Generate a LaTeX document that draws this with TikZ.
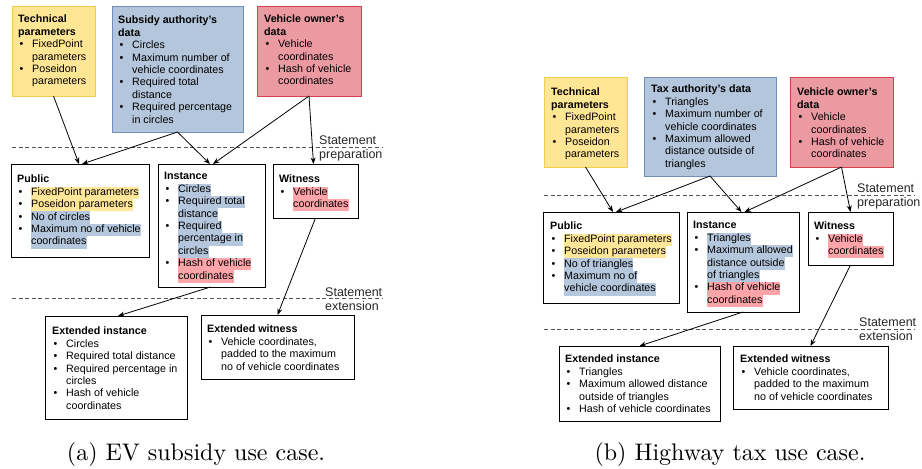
\documentclass[tikz,border=0pt]{standalone}
\usepackage{fontspec}
\newfontfamily\dfont{Liberation Sans}
\newfontfamily\capfont[Extension=.otf]{lmroman10-regular}
\usetikzlibrary{arrows.meta}
\definecolor{yfill}{HTML}{FFE695}
\definecolor{ydraw}{HTML}{F3CD4E}
\definecolor{bfill}{HTML}{B3C6DB}
\definecolor{bdraw}{HTML}{6F8EBE}
\definecolor{rfill}{HTML}{EB9AA2}
\definecolor{rdraw}{HTML}{D7404E}
\definecolor{hly}{HTML}{FFE699}
\definecolor{hlb}{HTML}{B4C7DC}
\definecolor{hlr}{HTML}{FFA5AA}
\definecolor{dashc}{HTML}{555555}
\setlength{\fboxsep}{0pt}
\newcommand{\bu}{\strut\makebox[14pt][l]{\hspace{1.5pt}\textbullet}}
\newcommand{\ind}{\strut\hspace{14pt}}
\newcommand{\hy}[1]{\colorbox{hly}{\strut #1}}
\newcommand{\hb}[1]{\colorbox{hlb}{\strut #1}}
\newcommand{\hr}[1]{\colorbox{hlr}{\strut #1}}
\tikzset{
  frame/.style={anchor=north west, inner sep=0pt, outer sep=0pt, line width=0.9pt},
  plainbox/.style={frame, draw=black, fill=white},
  ybox/.style={frame, draw=ydraw, fill=yfill},
  bbox/.style={frame, draw=bdraw, fill=bfill},
  rbox/.style={frame, draw=rdraw, fill=rfill},
  txt/.style={anchor=north west, inner sep=0pt, align=left, font=\dfont\fontsize{10.7}{12.4}\selectfont, text=black},
  lbl/.style={anchor=north west, inner sep=0pt, align=left, font=\dfont\fontsize{12.5}{14}\selectfont, text=black!85},
  arr/.style={-{Stealth[length=6.5pt,width=5pt]}, line width=0.8pt},
  sepline/.style={draw=dashc, line width=1pt, dash pattern=on 4pt off 2.6pt},
  captxt/.style={inner sep=0pt, font=\capfont\fontsize{24}{28}\selectfont}
}
\begin{document}
\begin{tikzpicture}[x=1pt,y=1pt]
\useasboundingbox (0,0) rectangle (922,-469);
% ================= (a) =================
\node[ybox, minimum width=83pt, minimum height=90pt] (tech) at (12,-6) {};
\node[txt] (techt) at (18,-14) {\strut\textbf{Technical}\\ \strut\textbf{parameters}\\ \bu FixedPoint\\ \ind parameters\\ \bu Poseidon\\ \ind parameters};
\node[bbox, minimum width=131pt, minimum height=126pt] (sub) at (112,-6) {};
\node[txt] (subt) at (118,-15) {\strut\textbf{Subsidy authority’s}\\ \strut\textbf{data}\\ \bu Circles\\ \bu Maximum number of\\ \ind vehicle coordinates\\ \bu Required total\\ \ind distance\\ \bu Required percentage\\ \ind in circles};
\node[rbox, minimum width=104pt, minimum height=90pt] (veh) at (257,-6) {};
\node[txt] (veht) at (264,-14) {\strut\textbf{Vehicle owner’s}\\ \strut\textbf{data}\\ \bu Vehicle\\ \ind coordinates\\ \bu Hash of vehicle\\ \ind coordinates};

\node[plainbox, minimum width=138pt, minimum height=93pt] (pub) at (11,-164) {};
\node[txt] (pubt) at (17,-174) {\strut\textbf{Public}\\ \bu\hy{FixedPoint parameters}\\ \bu\hy{Poseidon parameters}\\ \bu\hb{No of circles}\\ \bu\hb{Maximum no of vehicle}\\ \ind\hb{coordinates}};
\node[plainbox, minimum width=107pt, minimum height=123pt] (inst) at (158,-164) {};
\node[txt] (instt) at (164,-171) {\strut\textbf{Instance}\\ \bu\hb{Circles}\\ \bu\hb{Required total}\\ \ind\hb{distance}\\ \bu\hb{Required}\\ \ind\hb{percentage in}\\ \ind\hb{circles}\\ \bu\hr{Hash of vehicle}\\ \ind\hr{coordinates}};
\node[plainbox, minimum width=85pt, minimum height=54pt] (wit) at (273,-164) {};
\node[txt] (witt) at (279,-174) {\strut\textbf{Witness}\\ \bu\hr{Vehicle}\\ \ind\hr{coordinates}};

\node[plainbox, minimum width=142pt, minimum height=103pt] (exi) at (45,-316) {};
\node[txt] (exit) at (52,-326) {\strut\textbf{Extended instance}\\ \bu Circles\\ \bu Required total distance\\ \bu Required percentage in\\ \ind circles\\ \bu Hash of vehicle\\ \ind coordinates};
\node[plainbox, minimum width=153pt, minimum height=64pt] (exw) at (201,-315) {};
\node[txt] (exwt) at (207,-324) {\strut\textbf{Extended witness}\\ \bu Vehicle coordinates,\\ \ind padded to the maximum\\ \ind no of vehicle coordinates};

\coordinate (d1a) at (12,-147); \coordinate (d1b) at (382,-147);
\coordinate (d2a) at (12,-298); \coordinate (d2b) at (383,-298);
\draw[sepline] (d1a) -- (d1b);
\draw[sepline] (d2a) -- (d2b);
\node[lbl] (prep) at (319,-134.5) {\strut Statement\\ \strut preparation};
\node[lbl] (ext) at (325,-286.5) {\strut Statement\\ \strut extension};

\draw[arr] (tech.south) -- ([xshift=-1pt]pub.north);
\draw[arr] (sub.south) -- ([xshift=2pt]pub.north);
\draw[arr] (sub.south) -- ([xshift=-1.5pt]inst.north);
\draw[arr] (veh.south) -- ([xshift=1.5pt]inst.north);
\draw[arr] (veh.south) -- ([xshift=-2pt]wit.north);
\draw[arr] ([xshift=-1pt]inst.south) -- ([xshift=2pt]exi.north);
\draw[arr] (wit.south) -- (exw.north);

\node[captxt] (capa) at (196,-454) {(a) EV subsidy use case.};

% ================= (b) =================
\node[ybox, minimum width=83pt, minimum height=90pt] (tech2) at (544,-77) {};
\node[txt] (tech2t) at (551,-87) {\strut\textbf{Technical}\\ \strut\textbf{parameters}\\ \bu FixedPoint\\ \ind parameters\\ \bu Poseidon\\ \ind parameters};
\node[bbox, minimum width=132pt, minimum height=99pt] (tax2) at (644,-77) {};
\node[txt] (tax2t) at (651,-84) {\strut\textbf{Tax authority’s data}\\ \bu Triangles\\ \bu Maximum number of\\ \ind vehicle coordinates\\ \bu Maximum allowed\\ \ind distance outside of\\ \ind triangles};
\node[rbox, minimum width=103pt, minimum height=90pt] (veh2) at (790,-77) {};
\node[txt] (veh2t) at (797,-87) {\strut\textbf{Vehicle owner’s}\\ \strut\textbf{data}\\ \bu Vehicle\\ \ind coordinates\\ \bu Hash of vehicle\\ \ind coordinates};

\node[plainbox, minimum width=136pt, minimum height=91pt] (pub2) at (543,-212) {};
\node[txt] (pub2t) at (550,-221) {\strut\textbf{Public}\\ \bu\hy{FixedPoint parameters}\\ \bu\hy{Poseidon parameters}\\ \bu\hb{No of triangles}\\ \bu\hb{Maximum no of}\\ \ind\hb{vehicle coordinates}};
\node[plainbox, minimum width=112pt, minimum height=100pt] (inst2) at (687,-212) {};
\node[txt] (inst2t) at (693,-220) {\strut\textbf{Instance}\\ \bu\hb{Triangles}\\ \bu\hb{Maximum allowed}\\ \ind\hb{distance outside}\\ \ind\hb{of triangles}\\ \bu\hr{Hash of vehicle}\\ \ind\hr{coordinates}};
\node[plainbox, minimum width=85pt, minimum height=53pt] (wit2) at (808,-212) {};
\node[txt] (wit2t) at (814,-221) {\strut\textbf{Witness}\\ \bu\hr{Vehicle}\\ \ind\hr{coordinates}};

\node[plainbox, minimum width=161pt, minimum height=75pt] (exi2) at (559,-346) {};
\node[txt] (exi2t) at (565,-354) {\strut\textbf{Extended instance}\\ \bu Triangles\\ \bu Maximum allowed distance\\ \ind outside of triangles\\ \bu Hash of vehicle coordinates};
\node[plainbox, minimum width=155pt, minimum height=63pt] (exw2) at (733,-346) {};
\node[txt] (exw2t) at (740,-354) {\strut\textbf{Extended witness}\\ \bu Vehicle coordinates,\\ \ind padded to the maximum\\ \ind no of vehicle coordinates};

\coordinate (e1a) at (544,-195); \coordinate (e1b) at (915,-195);
\coordinate (e2a) at (544,-329); \coordinate (e2b) at (915,-329);
\draw[sepline] (e1a) -- (e1b);
\draw[sepline] (e2a) -- (e2b);
\node[lbl] (prep2) at (857,-182.5) {\strut Statement\\ \strut preparation};
\node[lbl] (ext2) at (859,-316.5) {\strut Statement\\ \strut extension};

\draw[arr] (tech2.south) -- ([xshift=2pt]pub2.north);
\draw[arr] (tax2.south) -- ([xshift=5pt]pub2.north);
\draw[arr] (tax2.south) -- ([xshift=-1.5pt]inst2.north);
\draw[arr] (veh2.south) -- ([xshift=1.5pt]inst2.north);
\draw[arr] (veh2.south) -- (wit2.north);
\draw[arr] (inst2.south) -- (exi2.north);
\draw[arr] (wit2.south) -- (exw2.north);

\node[captxt] (capb) at (730,-454) {(b) Highway tax use case.};
\end{tikzpicture}
\end{document}
